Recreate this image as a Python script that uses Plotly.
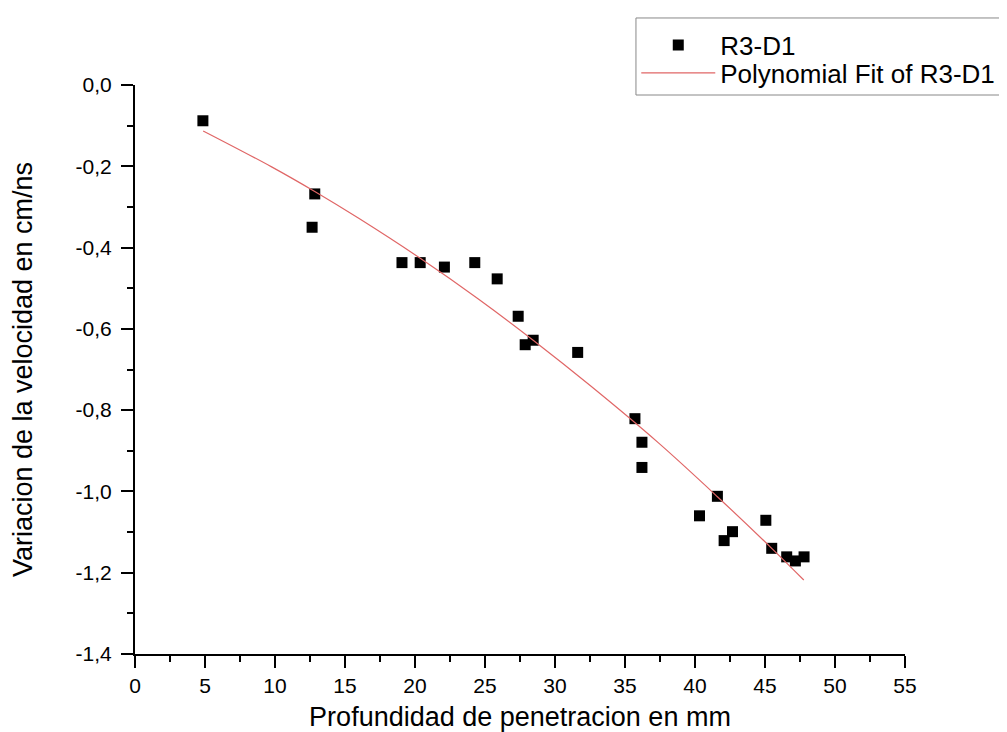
import plotly.graph_objects as go

# Measured data (R3-D1)
x_data = [4.85, 12.84, 12.65, 19.07, 20.37, 22.1, 24.27, 25.87, 27.37, 27.87, 28.44, 31.62,
          35.71, 36.21, 36.21, 41.6, 40.32, 42.68, 42.08, 45.06, 45.48, 46.55, 47.17, 47.79]
y_data = [-0.088, -0.268, -0.350, -0.437, -0.437, -0.448, -0.437, -0.477, -0.569, -0.639, -0.628, -0.658,
          -0.821, -0.879, -0.941, -1.012, -1.060, -1.099, -1.121, -1.071, -1.140, -1.161, -1.171, -1.161]

# Polynomial fit curve
x_fit = [4.87, 9.79, 12.84, 15.98, 20.4, 24.5, 28.44, 32.6, 37.37, 41.6, 45.48, 47.77]
y_fit = [-0.113, -0.202, -0.262, -0.328, -0.427, -0.526, -0.628, -0.742, -0.880, -1.013, -1.140, -1.218]

x_ticks = [0, 5, 10, 15, 20, 25, 30, 35, 40, 45, 50, 55]
y_ticks = [0.0, -0.2, -0.4, -0.6, -0.8, -1.0, -1.2, -1.4]
y_tick_labels = ["0,0", "-0,2", "-0,4", "-0,6", "-0,8", "-1,0", "-1,2", "-1,4"]

FONT = "Liberation Sans, Arial, sans-serif"
LEG_FONT = dict(family=FONT, size=26, color="black")

fig = go.Figure()
fig.add_trace(go.Scatter(
    x=x_data, y=y_data, mode="markers", name="R3-D1",
    marker=dict(symbol="square", size=11, color="black"),
    legend="legend",
))
fig.add_trace(go.Scatter(
    x=x_fit, y=y_fit, mode="lines", name="Polynomial Fit of R3-D1",
    line=dict(color="#e06666", width=1.2, shape="spline", smoothing=1.0),
    legend="legend2",
))

axis_common = dict(
    showline=True, linecolor="black", linewidth=2,
    ticks="outside", ticklen=12, tickwidth=2, tickcolor="black",
    showgrid=False, zeroline=False, mirror=False,
    tickfont=dict(family=FONT, size=21, color="black"),
)

fig.update_xaxes(
    range=[0, 55], tickvals=x_ticks,
    minor=dict(ticks="outside", ticklen=6, tickwidth=2, tickcolor="black", dtick=2.5, showgrid=False),
    title=dict(text="Profundidad de penetracion en mm", font=dict(family=FONT, size=27, color="black"), standoff=11),
    **axis_common,
)
fig.update_yaxes(
    range=[-1.4, 0], tickvals=y_ticks, ticktext=y_tick_labels,
    minor=dict(ticks="outside", ticklen=6, tickwidth=2, tickcolor="black", dtick=0.1, showgrid=False),
    title=dict(text="Variacion de la velocidad en cm/ns", font=dict(family=FONT, size=27, color="black"), standoff=36),
    ticklabelstandoff=5,
    **axis_common,
)

leg_common = dict(
    xanchor="left", yanchor="middle", bgcolor="rgba(0,0,0,0)", borderwidth=0,
    font=LEG_FONT, itemwidth=74,
)

fig.update_layout(
    width=1007, height=732,
    paper_bgcolor="white", plot_bgcolor="white",
    margin=dict(l=127, r=110, t=77, b=86, autoexpand=False),
    showlegend=True,
    legend=dict(x=0.651, y=1.070, **leg_common),
    legend2=dict(x=0.651, y=1.021, **leg_common),
    shapes=[dict(
        type="rect", xref="paper", yref="paper",
        x0=0.6506, x1=1.1377, y0=0.9824, y1=1.1178,
        line=dict(color="#888888", width=1), fillcolor="rgba(0,0,0,0)", layer="below",
    )],
)

fig.write_html("out.html")
